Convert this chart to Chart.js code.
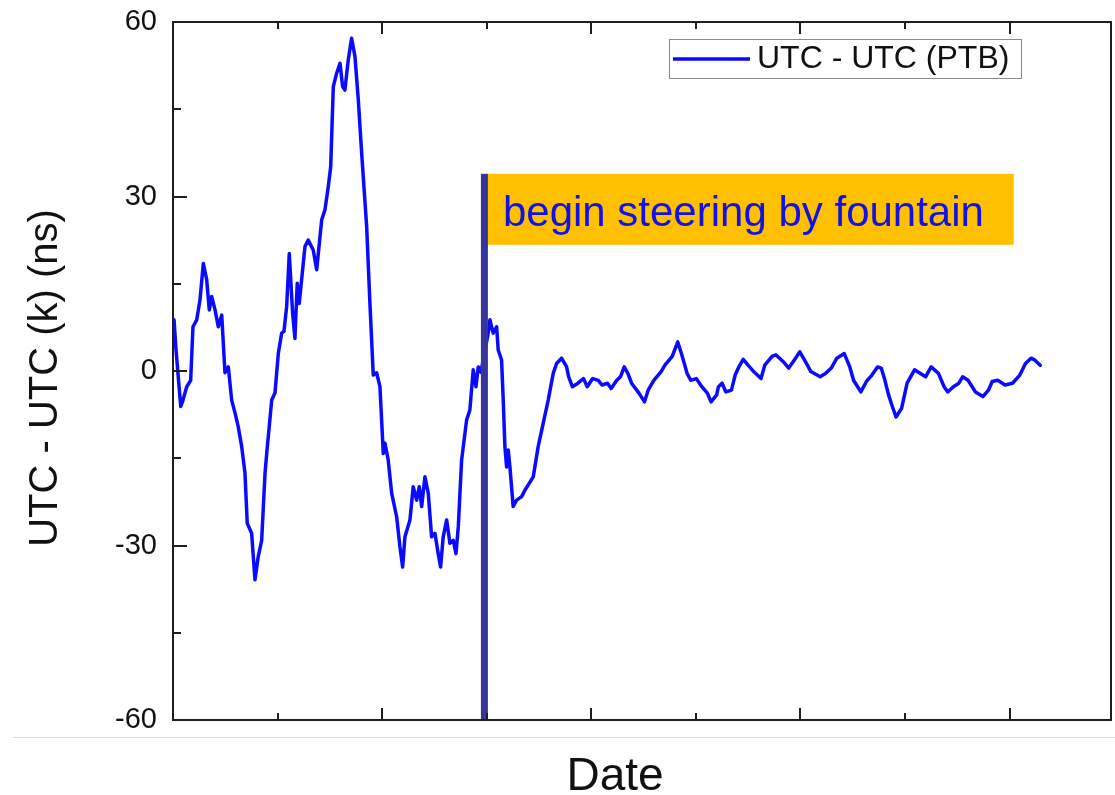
<!DOCTYPE html>
<html>
<head>
<meta charset="utf-8">
<script src="https://cdn.jsdelivr.net/npm/chart.js@4.4.1/dist/chart.umd.min.js"></script>
<style>
html,body{margin:0;padding:0;background:#ffffff;}
canvas{display:block;}
</style>
</head>
<body>
<canvas id="c" width="1115" height="795"></canvas>
<script>
// ---------------- data ----------------
const seriesLabel = 'UTC - UTC (PTB)';
const xAxisTitle = 'Date';
const yAxisTitle = 'UTC - UTC (k) (ns)';
const annotationText = 'begin steering by fountain';

// position along the (unlabelled) Date axis, one unit per tick interval
const dateIndex = [
  0.010,0.029,0.074,0.096,0.131,0.169,0.191,0.227,0.258,0.290,
  0.322,0.347,0.370,0.402,0.433,0.466,0.497,0.529,0.561,0.593,
  0.624,0.657,0.688,0.710,0.752,0.784,0.815,0.848,0.880,0.896,
  0.944,0.975,1.007,1.039,1.061,1.087,1.112,1.144,1.166,1.188,
  1.207,1.230,1.262,1.293,1.341,1.374,1.422,1.453,1.485,1.508,
  1.533,1.565,1.597,1.622,1.644,1.676,1.708,1.740,1.772,1.804,
  1.852,1.883,1.915,1.947,1.979,2.011,2.027,2.058,2.091,2.139,
  2.170,2.196,2.218,2.266,2.297,2.330,2.355,2.378,2.409,2.441,
  2.473,2.505,2.536,2.559,2.584,2.617,2.648,2.680,2.706,2.728,
  2.760,2.808,2.839,2.871,2.897,2.919,2.945,3.014,3.031,3.062,
  3.095,3.110,3.142,3.158,3.174,3.190,3.206,3.222,3.253,3.286,
  3.334,3.365,3.445,3.492,3.540,3.588,3.636,3.668,3.716,3.764,
  3.784,3.819,3.872,3.925,3.961,4.013,4.067,4.102,4.155,4.190,
  4.244,4.279,4.315,4.350,4.385,4.456,4.509,4.544,4.598,4.668,
  4.704,4.774,4.827,4.862,4.916,4.951,5.004,5.057,5.110,5.145,
  5.199,5.216,5.251,5.287,5.340,5.376,5.411,5.453,5.499,5.553,
  5.588,5.623,5.659,5.729,5.765,5.836,5.888,5.942,5.994,6.048,
  6.100,6.189,6.242,6.295,6.348,6.419,6.472,6.508,6.578,6.631,
  6.684,6.737,6.773,6.808,6.843,6.879,6.914,6.968,7.020,7.091,
  7.144,7.197,7.250,7.320,7.374,7.409,7.463,7.515,7.551,7.603,
  7.674,7.745,7.798,7.834,7.887,7.957,8.028,8.098,8.152,8.205,8.240,8.293
];

// UTC - UTC(k) in ns
const offsetNs = [
  8.8,3.6,-6.1,-5.0,-2.7,-1.6,7.6,8.8,12.2,18.5,
  15.7,10.5,12.8,10.5,7.6,9.6,-0.3,0.7,-5.0,-7.2,
  -9.6,-13.0,-17.5,-26.2,-27.9,-35.9,-31.9,-29.1,-17.6,-14.2,
  -5.0,-3.8,3.0,6.5,6.8,11.1,20.2,9.9,5.6,15.1,
  11.6,15.7,21.4,22.5,20.8,17.4,26.0,27.7,31.7,35.1,
  48.9,51.2,52.9,48.9,48.3,53.5,57.2,54.1,46.6,37.5,
  24.8,11.7,-0.7,-0.3,-2.7,-14.2,-12.4,-15.3,-21.0,-25.1,
  -30.2,-33.7,-28.5,-25.6,-19.9,-22.2,-19.9,-23.3,-18.2,-21.0,
  -28.5,-27.9,-31.4,-33.7,-28.5,-25.6,-29.6,-29.1,-31.4,-26.8,
  -15.3,-8.4,-6.7,0.2,-2.7,0.7,-0.2,6.5,8.8,6.5,
  7.6,3.6,1.9,-5.0,-13.0,-16.5,-13.6,-16.5,-23.3,-22.2,
  -21.6,-20.5,-18.2,-13.0,-9.0,-5.0,-0.4,1.3,2.2,0.7,
  -1.0,-2.7,-2.1,-1.3,-2.7,-1.3,-1.6,-2.4,-2.1,-3.0,
  -1.6,-1.0,0.7,-0.4,-2.1,-3.8,-5.3,-3.3,-1.6,-0.1,
  1.0,2.5,5.0,3.0,-0.4,-1.6,-1.3,-2.7,-3.8,-5.3,
  -4.1,-2.7,-2.1,-3.6,-3.3,-0.7,0.7,2.0,1.0,-0.1,
  -0.7,-1.3,1.0,2.5,2.8,1.6,0.5,1.9,3.3,1.6,
  -0.1,-1.0,-0.4,0.5,2.2,3.0,0.7,-1.6,-3.6,-1.8,
  -0.7,0.7,0.5,-1.6,-4.1,-6.1,-7.9,-6.4,-2.1,0.2,
  -0.4,-1.0,0.7,-0.4,-2.7,-3.6,-2.7,-2.1,-1.0,-1.6,
  -3.6,-4.4,-3.3,-1.8,-1.6,-2.4,-2.1,-0.7,1.3,2.2,1.9,1.0
];

const yTickValues = [-60, -30, 0, 30, 60];
const yMinorTicks = [-45, -15, 15, 45];
const xMajorTicks = [2, 4, 6, 8];
const xMinorTicks = [1, 3, 5, 7];
const steeringDate = 2.978;

// ---------------- drawing ----------------
const FONT = "'Liberation Sans', Arial, Helvetica, sans-serif";
const points = dateIndex.map((d, i) => ({ x: d, y: offsetNs[i] }));

const decor = {
  id: 'decor',
  afterDatasetsDraw(chart) {
    const { ctx, chartArea: a, scales: { x, y } } = chart;
    ctx.save();
    const lx = x.getPixelForValue(steeringDate);
    const topY = y.getPixelForValue(33.9);
    const botY = y.getPixelForValue(21.7);
    const boxR = x.getPixelForValue(8.04);
    // annotation box
    ctx.fillStyle = '#FFC000';
    ctx.fillRect(lx + 2.5, topY, boxR - lx - 2.5, botY - topY);
    ctx.fillStyle = '#1212e8';
    ctx.font = '42px ' + FONT;
    ctx.textAlign = 'left';
    ctx.textBaseline = 'alphabetic';
    ctx.fillText(annotationText, lx + 18.5, y.getPixelForValue(24.9));
    // steering line
    ctx.fillStyle = '#35359a';
    ctx.fillRect(lx - 3.5, topY, 7, a.bottom - topY);
    ctx.restore();
  },
  afterDraw(chart) {
    const { ctx, chartArea: a, scales: { x, y } } = chart;
    ctx.save();
    // separator line under plot
    ctx.strokeStyle = '#d9d9d9';
    ctx.lineWidth = 1;
    ctx.beginPath();
    ctx.moveTo(13, 737.5);
    ctx.lineTo(1115, 737.5);
    ctx.stroke();

    // frame
    ctx.strokeStyle = '#1e1e1e';
    ctx.lineWidth = 2;
    ctx.strokeRect(a.left, a.top, a.right - a.left, a.bottom - a.top);

    // ticks (inward)
    ctx.beginPath();
    const tickX = (v, len) => {
      const px = Math.round(x.getPixelForValue(v));
      ctx.moveTo(px, a.bottom); ctx.lineTo(px, a.bottom - len);
      ctx.moveTo(px, a.top); ctx.lineTo(px, a.top + len);
    };
    xMajorTicks.forEach(v => tickX(v, 12));
    xMinorTicks.forEach(v => tickX(v, 7));
    const tickY = (v, len) => {
      const py = Math.round(y.getPixelForValue(v));
      ctx.moveTo(a.left, py); ctx.lineTo(a.left + len, py);
    };
    yTickValues.forEach(v => tickY(v, 14));
    yMinorTicks.forEach(v => tickY(v, 8));
    ctx.stroke();

    // legend
    const ds = chart.data.datasets[0];
    ctx.fillStyle = '#ffffff';
    ctx.fillRect(669, 39, 352, 39);
    ctx.strokeStyle = '#8a8a8a';
    ctx.lineWidth = 1;
    ctx.strokeRect(669.5, 39.5, 352, 39);
    ctx.strokeStyle = ds.borderColor;
    ctx.lineWidth = 3.5;
    ctx.beginPath();
    ctx.moveTo(673, 59);
    ctx.lineTo(750, 59);
    ctx.stroke();
    ctx.fillStyle = '#111111';
    ctx.font = '32px ' + FONT;
    ctx.textAlign = 'left';
    ctx.textBaseline = 'alphabetic';
    ctx.fillText(ds.label, 757, 68);

    // axis titles
    ctx.font = '46px ' + FONT;
    ctx.textAlign = 'center';
    ctx.fillText(xAxisTitle, 615, 790);
    ctx.translate(57, 378);
    ctx.rotate(-Math.PI / 2);
    ctx.font = '40px ' + FONT;
    ctx.fillText(yAxisTitle, 0, 0);
    ctx.restore();
  }
};

new Chart(document.getElementById('c'), {
  type: 'line',
  data: {
    datasets: [{
      label: seriesLabel,
      data: points,
      borderColor: '#0a0aff',
      borderWidth: 3.5,
      pointRadius: 0,
      tension: 0,
      borderJoinStyle: 'round',
      borderCapStyle: 'round',
      fill: false
    }]
  },
  options: {
    responsive: false,
    animation: false,
    devicePixelRatio: 1,
    layout: { padding: { top: 22, right: 4, left: 0, bottom: 0 } },
    plugins: { legend: { display: false }, tooltip: { enabled: false } },
    scales: {
      x: {
        type: 'linear', min: 0, max: 8.97,
        grid: { display: false, drawTicks: false },
        border: { display: false },
        ticks: { display: false },
        afterFit(s) { s.height = 75; }
      },
      y: {
        type: 'linear', min: -60, max: 60,
        afterBuildTicks(s) { s.ticks = yTickValues.map(v => ({ value: v })); },
        grid: { display: false, drawTicks: true, tickLength: 16 },
        border: { display: false },
        ticks: { color: '#111111', padding: 0, font: { family: FONT, size: 29 } },
        afterFit(s) { s.width = 173; }
      }
    }
  },
  plugins: [decor]
});
</script>
</body>
</html>
